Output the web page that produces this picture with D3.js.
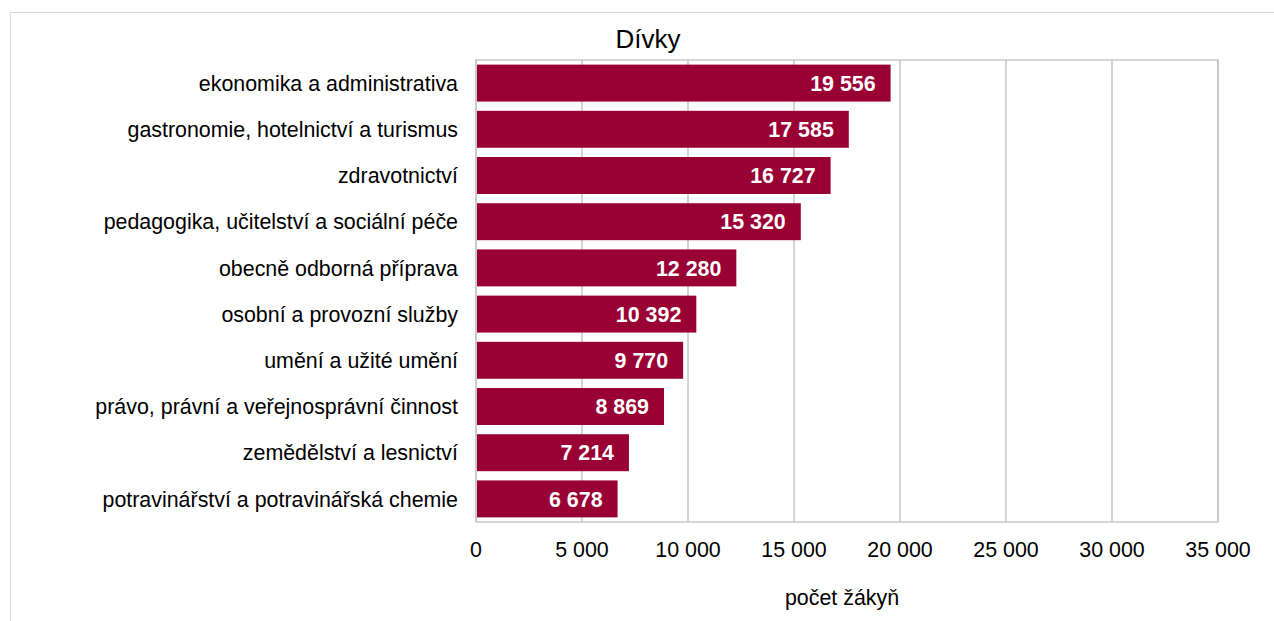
<!DOCTYPE html>
<html><head><meta charset="utf-8">
<script src="https://cdn.jsdelivr.net/npm/d3@7"></script>
<style>body{margin:0;background:#fff}svg{display:block;font-family:"Liberation Sans",Arial,sans-serif}</style>
</head><body><svg id="c" width="1274" height="621"></svg>
<script>
const categories = ["ekonomika a administrativa","gastronomie, hotelnictví a turismus","zdravotnictví","pedagogika, učitelství a sociální péče","obecně odborná příprava","osobní a provozní služby","umění a užité umění","právo, právní a veřejnosprávní činnost","zemědělství a lesnictví","potravinářství a potravinářská chemie"];
const values = [19556,17585,16727,15320,12280,10392,9770,8869,7214,6678];
const tickValues = [0,5000,10000,15000,20000,25000,30000,35000];
const title = "Dívky";
const axisTitle = "počet žákyň";

const fmt = v => d3.format(",")(v).replace(/,/g, " ");
const svg = d3.select("#c");
const m = {l:476, r:1218, t:60, b:522};
// outer border
svg.append("path").attr("d","M10.5,621 V12.5 H1274").attr("fill","none").attr("stroke","#d9d9d9").attr("stroke-width",1);

const x = d3.scaleLinear().domain([0,35000]).range([m.l,m.r]);
const y = d3.scaleBand().domain(categories).range([m.t,m.b]).paddingInner(0.2).paddingOuter(0.1);

// gridlines
svg.append("g").selectAll("line").data(tickValues).join("line")
  .attr("x1",d=>x(d)).attr("x2",d=>x(d)).attr("y1",m.t).attr("y2",m.b)
  .attr("stroke","#c6c6c6").attr("stroke-width",1.5);
svg.append("rect").attr("x",m.l).attr("y",m.t).attr("width",m.r-m.l).attr("height",m.b-m.t)
  .attr("fill","none").attr("stroke","#c6c6c6").attr("stroke-width",1.5);

// bars
svg.append("g").selectAll("rect").data(values).join("rect")
  .attr("x",x(0)+1).attr("y",(d,i)=>y(categories[i]))
  .attr("width",d=>x(d)-x(0)-1).attr("height",y.bandwidth())
  .attr("fill","#990033");

// data labels
svg.append("g").selectAll("text").data(values).join("text")
  .attr("x",d=>x(d)-15).attr("y",(d,i)=>y(categories[i])+y.bandwidth()/2)
  .attr("dy","0.36em").attr("text-anchor","end").attr("fill","#fff")
  .attr("font-weight","bold").attr("font-size",21.4).text(fmt);

// category labels
svg.append("g").selectAll("text").data(categories).join("text")
  .attr("x",m.l-18).attr("y",d=>y(d)+y.bandwidth()/2).attr("dy","0.36em")
  .attr("text-anchor","end").attr("font-size",21.4).attr("fill","#000").text(d=>d);

// x tick labels
svg.append("g").selectAll("text").data(tickValues).join("text")
  .attr("x",d=>x(d)).attr("y",557).attr("text-anchor","middle")
  .attr("font-size",21.4).attr("fill","#000").text(fmt);

svg.append("text").attr("x",842).attr("y",605).attr("text-anchor","middle")
  .attr("font-size",21.4).text(axisTitle);
svg.append("text").attr("x",648).attr("y",48).attr("text-anchor","middle")
  .attr("font-size",26).text(title);
</script></body></html>
